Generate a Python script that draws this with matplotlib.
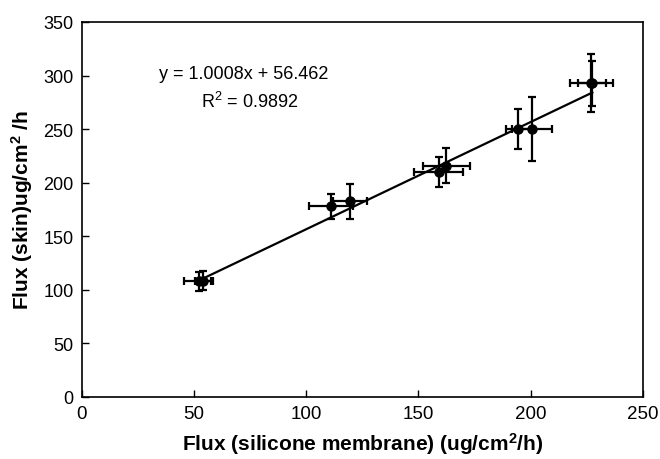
import numpy as np
import matplotlib.pyplot as plt

plt.rcParams['font.family'] = ['Liberation Sans', 'DejaVu Sans']

# flux through silicone membrane vs. skin (ug/cm2/h)
membrane = [52, 54, 111, 119.5, 159, 162.5, 194.5, 200.5, 227, 227.5]
skin = [108, 108.5, 178, 182.5, 210, 216, 250, 250, 293, 293]
membrane_err = [6.5, 3.6, 9.7, 7.4, 10.8, 10.6, 5.7, 9, 9.5, 6.3]
skin_err = [9, 9, 11.6, 16.7, 14, 16, 18.5, 30, 27, 21]

slope = 1.0008
intercept = 56.462
r2 = 0.9892

fig = plt.figure(figsize=(6.6, 4.6), dpi=100)
ax = fig.add_axes([0.124, 0.135, 0.850, 0.815])

xs = np.array([min(membrane), max(membrane)])
ax.plot(xs, slope * xs + intercept, color='black', lw=1.6, zorder=2)
ax.errorbar(membrane, skin, xerr=membrane_err, yerr=skin_err, fmt='o',
            color='black', ms=6.5, elinewidth=1.6, capsize=3, capthick=1.6,
            zorder=3)

ax.text(72, 302, 'y = %.4fx + %.3f' % (slope, intercept), ha='center',
        va='center', fontsize=13)
ax.text(75, 276, '$\\mathregular{R^2}$ = %.4f' % r2, ha='center',
        va='center', fontsize=13)

ax.set_xlim(0, 250)
ax.set_ylim(0, 350)
ax.set_xticks(range(0, 251, 50))
ax.set_yticks(range(0, 351, 50))
ax.tick_params(direction='in', length=5, width=1, pad=6)
ax.tick_params(axis='x', labelsize=13.5)
ax.tick_params(axis='y', labelsize=13)
for s in ax.spines.values():
    s.set_linewidth(1.2)

ax.set_xlabel('Flux (silicone membrane) (ug/cm$\\mathregular{^2}$/h)',
              fontsize=15, fontweight='bold', labelpad=6)
ax.set_ylabel('Flux (skin)ug/cm$\\mathregular{^2}$ /h', fontsize=15,
              fontweight='bold', labelpad=6)

fig.savefig('out.png', dpi=100)
